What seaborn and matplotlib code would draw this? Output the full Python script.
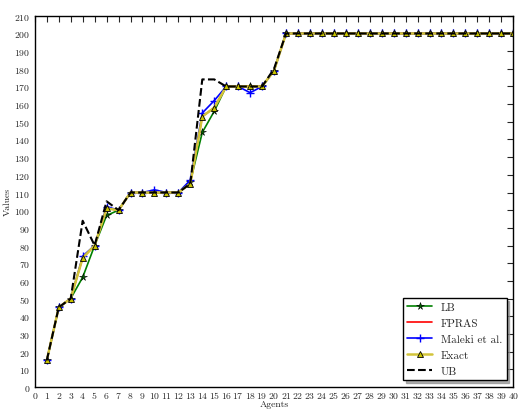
import numpy as np
import pandas as pd
import seaborn as sns
import matplotlib
matplotlib.use('Agg')
import matplotlib.pyplot as plt

# values
agents = list(range(1, 41))
flat = [200] * 20
lb = [15, 45, 50, 62, 80, 97, 100, 110, 110, 110, 110, 110, 116, 144, 156, 170, 170, 170, 170, 179] + flat
exact = [15, 45, 50, 73, 80, 101, 100, 110, 110, 110, 110, 110, 115, 153, 158, 170, 170, 170, 170, 179] + flat
fpras = list(exact)
maleki = [15, 45, 50, 74, 80, 102, 100, 110, 110, 111.5, 110, 110, 117, 155, 162, 170, 170, 166.5, 170, 179] + flat
ub = [15, 45, 50, 94, 80, 105, 100, 110, 110, 110, 110, 110, 115, 174, 174, 170, 170, 170, 170, 180] + flat

df = pd.DataFrame({'Agents': agents, 'LB': lb, 'FPRAS': fpras, 'Maleki et al.': maleki,
                   'Exact': exact, 'UB': ub})

sns.set_style('white')
plt.rcParams['font.family'] = ['cmr10', 'DejaVu Serif']
plt.rcParams['axes.formatter.use_mathtext'] = True
plt.rcParams['xtick.direction'] = 'in'
plt.rcParams['ytick.direction'] = 'in'

fig, ax = plt.subplots(figsize=(5.2, 4.1), dpi=100)
fig.subplots_adjust(left=0.067, right=0.987, top=0.959, bottom=0.054)

sns.lineplot(data=df, x='Agents', y='LB', ax=ax, color='green', marker='*', markersize=5.5,
             markerfacecolor='darkgreen', markeredgecolor='black', markeredgewidth=0.4,
             linewidth=1.2, label='LB')
sns.lineplot(data=df, x='Agents', y='FPRAS', ax=ax, color='red', linewidth=1.2, label='FPRAS')
sns.lineplot(data=df, x='Agents', y='Maleki et al.', ax=ax, color='blue', marker='+', markersize=6,
             markeredgecolor='blue', markeredgewidth=1, linewidth=1.2, label='Maleki et al.')
sns.lineplot(data=df, x='Agents', y='Exact', ax=ax, color='#d2c43a', marker='^', markersize=5,
             markerfacecolor='#c9c400', markeredgecolor='black', markeredgewidth=0.6,
             linewidth=1.8, label='Exact')
sns.lineplot(data=df, x='Agents', y='UB', ax=ax, color='black', linestyle='--', linewidth=1.5,
             dashes=(4, 4), label='UB')

ax.set_xlim(0, 40)
ax.set_ylim(0, 210)
ax.set_xticks(range(0, 41))
ax.set_yticks(range(0, 211, 10))
ax.tick_params(axis='both', labelsize=7, length=4, width=0.8, top=True, right=True)
ax.tick_params(axis='x', pad=8)
ax.tick_params(axis='y', pad=3)
plt.setp(ax.get_xticklabels(), va='baseline')
plt.setp(ax.get_yticklabels(), va='center_baseline')
ax.set_xlabel('Agents', fontsize=7, labelpad=0)
ax.set_ylabel('Values', fontsize=7, labelpad=2)
for s in ax.spines.values():
    s.set_color('black')
    s.set_linewidth(1)

leg = ax.legend(loc='lower right', fontsize=8, frameon=True, fancybox=False,
                shadow={'color': '0.55', 'alpha': 0.7, 'ox': 2, 'oy': -2},
                borderaxespad=0.6, handlelength=2.2, labelspacing=0.55)
leg.get_frame().set_edgecolor('black')
leg.get_frame().set_linewidth(1)

fig.savefig('out.png', dpi=100)
